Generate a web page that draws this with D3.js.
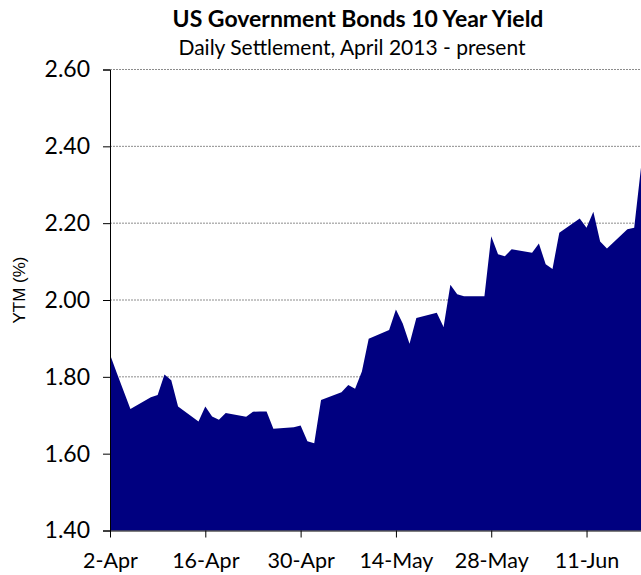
<!DOCTYPE html>
<html><head><meta charset="utf-8">
<script src="https://cdn.jsdelivr.net/npm/d3@7"></script>
<style>body{margin:0;background:#fff}svg{display:block}</style>
</head><body>
<svg id="c" width="641" height="575"></svg>
<script>
const dates = ["2013-04-02","2013-04-03","2013-04-04","2013-04-05","2013-04-08","2013-04-09","2013-04-10","2013-04-11","2013-04-12",
"2013-04-15","2013-04-16","2013-04-17","2013-04-18","2013-04-19","2013-04-22","2013-04-23","2013-04-24","2013-04-25","2013-04-26",
"2013-04-29","2013-04-30","2013-05-01","2013-05-02","2013-05-03","2013-05-06","2013-05-07","2013-05-08","2013-05-09","2013-05-10",
"2013-05-13","2013-05-14","2013-05-15","2013-05-16","2013-05-17","2013-05-20","2013-05-21","2013-05-22","2013-05-23","2013-05-24",
"2013-05-27","2013-05-28","2013-05-29","2013-05-30","2013-05-31","2013-06-03","2013-06-04","2013-06-05","2013-06-06","2013-06-07",
"2013-06-10","2013-06-11","2013-06-12","2013-06-13","2013-06-14","2013-06-17","2013-06-18","2013-06-19"];
const yields = [1.858,1.81,1.763,1.716,1.747,1.753,1.806,1.791,1.723,
1.684,1.723,1.697,1.688,1.706,1.696,1.709,1.710,1.710,1.665,
1.669,1.673,1.632,1.627,1.740,1.760,1.779,1.769,1.814,1.899,
1.922,1.975,1.939,1.886,1.953,1.967,1.930,2.040,2.015,2.010,
2.010,2.166,2.119,2.114,2.132,2.123,2.147,2.093,2.081,2.175,
2.212,2.188,2.230,2.152,2.134,2.184,2.188,2.345];
const xTickLabels = ["2-Apr","16-Apr","30-Apr","14-May","28-May","11-Jun"];
const yTicks = [1.40,1.60,1.80,2.00,2.20,2.40,2.60];
const titleText = "US Government Bonds 10 Year Yield";
const subtitleText = "Daily Settlement, April 2013 - present";
const yAxisTitle = "YTM (%)";

const parse = d3.timeParse("%Y-%m-%d");
const data = dates.map((d,i)=>({date:parse(d), v:yields[i]}));
const svg = d3.select("#c");
const L=110, R=641, T=69.5, B=530.5;
const x = d3.scaleTime().domain([data[0].date, data[data.length-1].date]).range([L,R]);
const y = d3.scaleLinear().domain([1.4,2.6]).range([B,T]);
const tickDates = xTickLabels.map((s,i)=>d3.timeDay.offset(data[0].date, 14*i));

// gridlines
svg.append("g").selectAll("line").data(yTicks.slice(1)).join("line")
  .attr("x1",L).attr("x2",R).attr("y1",d=>y(d)).attr("y2",d=>y(d))
  .attr("stroke","#8c8c8c").attr("stroke-width",1).attr("stroke-dasharray","2,1");

// area
const area = d3.area().x(d=>x(d.date)).y0(y(1.4)).y1(d=>y(d.v));
svg.append("path").datum(data).attr("d",area).attr("fill","#000080");

const font = "Lato, 'Open Sans', sans-serif";
// y axis
const ya = svg.append("g").attr("transform",`translate(${L},0)`)
  .call(d3.axisLeft(y).tickValues(yTicks).tickFormat(d3.format(".2f")).tickSize(7).tickPadding(13));
ya.select(".domain").attr("stroke","#000");
ya.selectAll(".tick line").attr("stroke","#000");
ya.selectAll("text").attr("font-family",font).attr("font-size",23).attr("fill","#000");

// x axis
const xa = svg.append("g").attr("transform",`translate(0,${B})`)
  .call(d3.axisBottom(x).tickValues(tickDates).tickFormat((d,i)=>xTickLabels[i]).tickSize(7).tickSizeOuter(0).tickPadding(15));
xa.select(".domain").attr("stroke","#000");
xa.selectAll(".tick line").attr("stroke","#000");
xa.selectAll("text").attr("font-family",font).attr("font-size",21.5).attr("fill","#000");

// titles
svg.append("text").attr("x",358).attr("y",27).attr("text-anchor","middle")
  .attr("font-family",font).attr("font-weight","bold").attr("font-size",23).text(titleText);
svg.append("text").attr("x",352).attr("y",55).attr("text-anchor","middle")
  .attr("font-family",font).attr("font-size",21).text(subtitleText);
svg.append("text").attr("transform","translate(25,290) rotate(-90)").attr("text-anchor","middle")
  .attr("font-family","'Liberation Sans', Arial, sans-serif").attr("font-size",17).text(yAxisTitle);
</script>
</body></html>
